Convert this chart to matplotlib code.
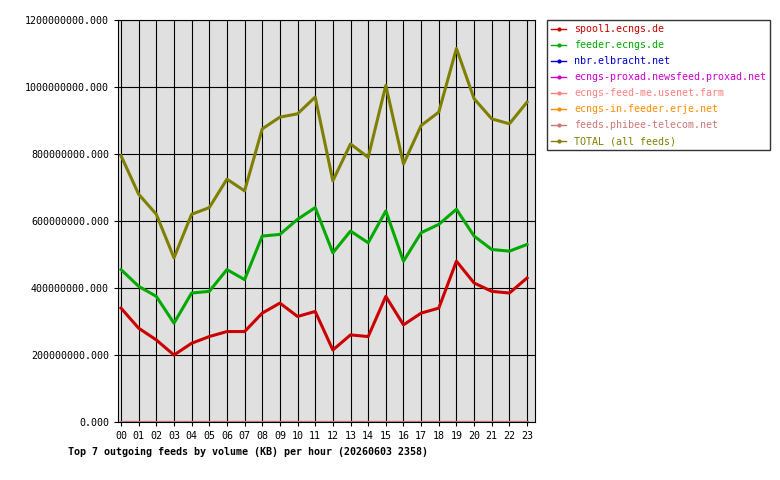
import numpy as np
import matplotlib.pyplot as plt

hours = ["%02d" % h for h in range(24)]
spool1 = [340, 280, 245, 200, 235, 255, 270, 270, 325, 355, 315, 330,
          215, 260, 255, 375, 290, 325, 340, 480, 415, 390, 385, 430]
feeder = [455, 405, 375, 295, 385, 390, 455, 425, 555, 560, 605, 640,
          505, 570, 535, 630, 480, 565, 590, 635, 555, 515, 510, 530]
total = [795, 680, 620, 490, 620, 640, 725, 690, 875, 910, 920, 970,
         720, 830, 790, 1005, 770, 885, 925, 1115, 965, 905, 890, 955]
small = [1] * 24

series = [
    ("spool1.ecngs.de", [v * 1e6 for v in spool1], "#cc0000"),
    ("feeder.ecngs.de", [v * 1e6 for v in feeder], "#00aa00"),
    ("nbr.elbracht.net", [v * 1e6 for v in small], "#0000cc"),
    ("ecngs-proxad.newsfeed.proxad.net", [v * 1e6 for v in small], "#cc00cc"),
    ("ecngs-feed-me.usenet.farm", [v * 1e6 for v in small], "#ff7f7f"),
    ("ecngs-in.feeder.erje.net", [v * 1e6 for v in small], "#ff8c00"),
    ("feeds.phibee-telecom.net", [v * 1e6 for v in small], "#cc7777"),
    ("TOTAL (all feeds)", [v * 1e6 for v in total], "#808000"),
]

plt.rcParams["font.family"] = "DejaVu Sans Mono"

fig = plt.figure(figsize=(7.8, 4.8), dpi=100)
ax = fig.add_axes([118 / 780, 58 / 480, 417 / 780, 402 / 480])
ax.set_facecolor("#e0e0e0")

x = np.arange(24)
handles = []
for name, vals, col in series:
    ax.plot(x, vals, color=col, lw=2.2)
    handles.append(plt.Line2D([], [], color=col, lw=1, marker="o", ms=2,
                              label=name))

ax.set_xlim(-0.17, 23.45)
ax.set_ylim(0, 1200e6)
ax.set_xticks(x)
ax.set_xticklabels(hours, fontsize=7.2)
yt = np.arange(0, 1200e6 + 1, 200e6)
ax.set_yticks(yt)
ax.set_yticklabels(["%.3f" % v for v in yt], fontsize=7.2)
ax.grid(True, color="black", lw=0.8)
ax.set_axisbelow(True)
ax.tick_params(length=3)

leg = fig.legend(handles=handles, loc="upper left",
                 bbox_to_anchor=(547 / 780, 1 - 20 / 480), fontsize=7.2,
                 frameon=True, fancybox=False, edgecolor="black",
                 handlelength=1.5, borderaxespad=0, labelspacing=0.6)
for t, (_, _, col) in zip(leg.get_texts(), series):
    t.set_color(col)

fig.text(68 / 780, 1 - 452 / 480, "Top 7 outgoing feeds by volume (KB) per hour (20260603 2358)",
         fontsize=7.2, fontweight="bold", va="center")

fig.savefig("out.png", dpi=100)
